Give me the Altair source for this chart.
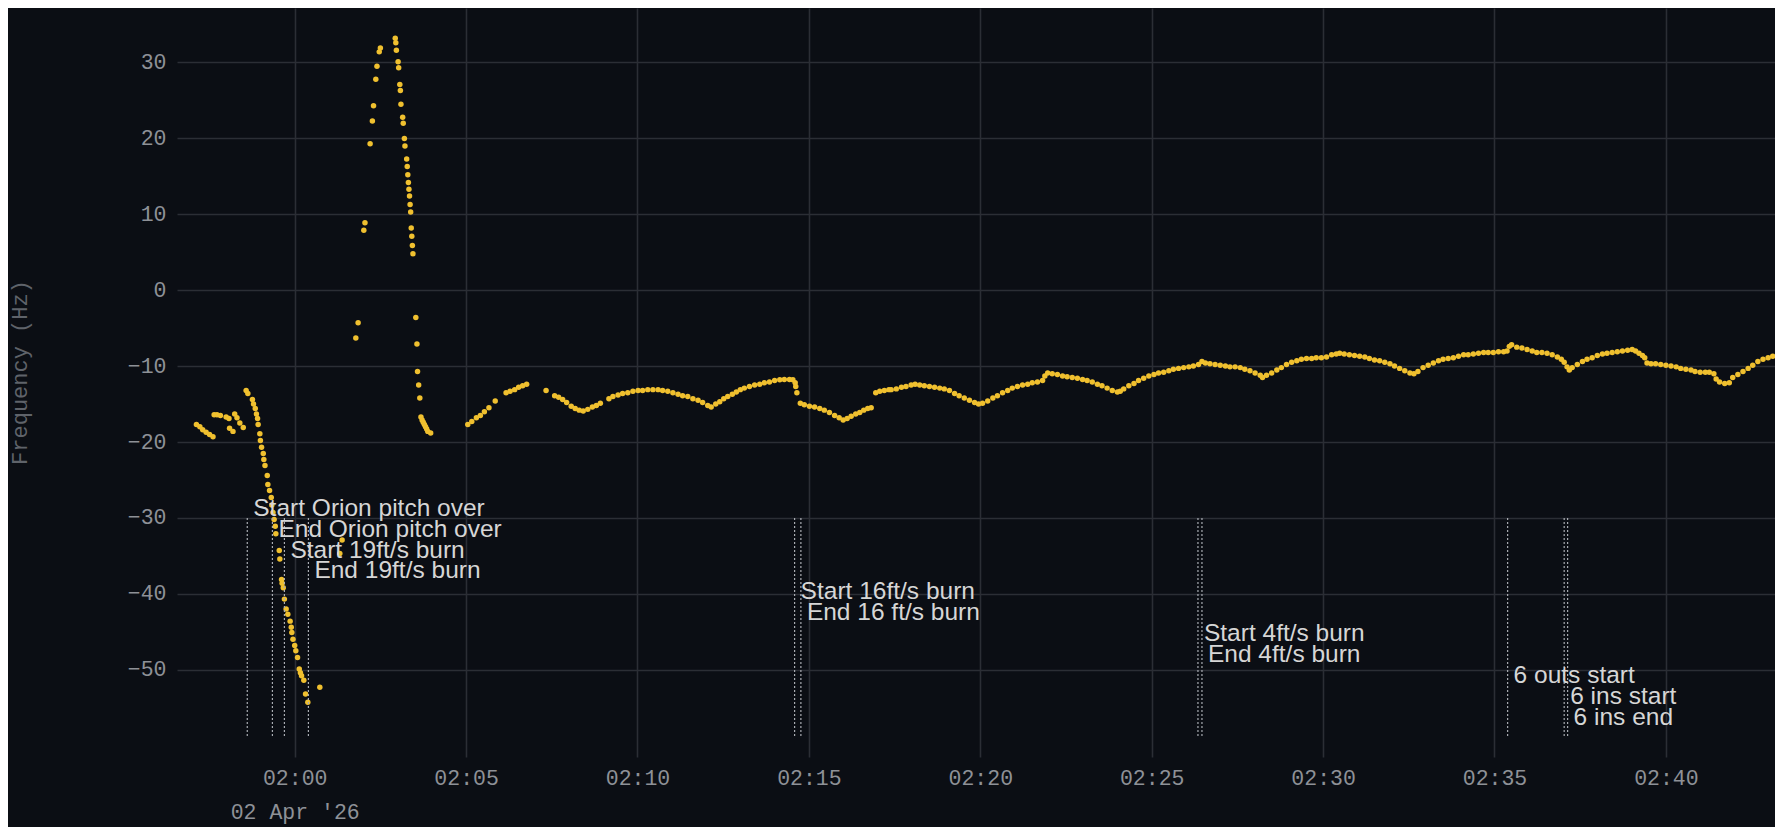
import altair as alt
import pandas as pd

DATE = "2026-04-02"
ZERO = "02:00:00"

# (seconds after 02:00:00 UTC, frequency in Hz)
PITCH_OVER = [
    (-172, -17.7), (-166, -18.0), (-161, -18.4), (-155, -18.7), (-149, -19.0), (-143, -19.3),
    (-141, -16.4), (-136, -16.4), (-130, -16.5), (-120, -16.7), (-115, -16.9), (-114, -18.2),
    (-108, -18.6), (-105, -16.3), (-101, -16.8), (-96, -17.5), (-90, -18.1), (-85, -13.2),
    (-82, -13.6), (-74, -14.4), (-72, -15.0), (-69, -15.6), (-67, -16.3), (-65, -16.9),
    (-64, -17.7), (-61, -18.9), (-60, -19.8), (-58, -20.7), (-55, -21.5), (-54, -22.3),
    (-52, -23.1), (-48, -24.4), (-47, -25.6), (-44, -26.4), (-41, -27.3), (-40, -28.3),
    (-38, -29.3), (-36, -30.2), (-34, -31.1), (-33, -32.1), (-27, -34.3), (-26, -35.4),
    (-23, -38.1), (-22, -38.6), (-20, -39.2), (-18, -40.7), (-15, -42.0), (-12, -42.7),
    (-8, -43.6), (-6, -44.4), (-5, -45.1), (-3, -46.0), (0, -46.8), (2, -47.5), (5, -48.4),
    (8, -49.9), (10, -50.4), (12, -50.8), (16, -51.4), (19, -53.2), (23, -54.3), (44, -52.3),
    (79, -34.7), (83, -32.9),
]

SPIKE = [
    (107, -6.3), (111, -4.3), (121, 7.9), (123, 8.9), (132, 19.3), (136, 22.3), (138, 24.3),
    (142, 27.8), (144, 29.5), (148, 31.4), (150, 31.9), (176, 33.2), (177, 32.6), (178, 31.6),
    (181, 30.1), (182, 29.3), (184, 27.1), (185, 26.3), (186, 24.5), (189, 22.8), (190, 22.0),
    (192, 20.0), (193, 19.0), (196, 17.3), (197, 16.3), (198, 15.2), (199, 14.2), (200, 13.3),
    (201, 12.4), (202, 11.3), (203, 10.3), (204, 8.2), (205, 7.1), (206, 5.9), (207, 4.8),
    (212, -3.6), (214, -7.1), (215, -10.7), (217, -12.5), (219, -14.2), (221, -16.7),
    (223, -17.1), (225, -17.4), (227, -17.7), (229, -18.0), (231, -18.3), (233, -18.6),
    (238, -18.8),
]

CRUISE = [
    (303, -17.7), (310, -17.3), (318, -16.8), (325, -16.5), (332, -16.0), (340, -15.5), (351, -14.6),
    (370, -13.5), (377, -13.3), (385, -13.1), (392, -12.8), (399, -12.6), (406, -12.4),
    (440, -13.2), (455, -13.9),
    (462, -14.1), (469, -14.4), (476, -14.8), (484, -15.3), (491, -15.6), (498, -15.8), (505, -15.9),
    (513, -15.7), (521, -15.4), (528, -15.2), (535, -14.9),
    (550, -14.3), (557, -14.0), (566, -13.8), (574, -13.6), (583, -13.5), (592, -13.3), (601, -13.2),
    (609, -13.2), (618, -13.1), (627, -13.1), (636, -13.1), (644, -13.2), (653, -13.3), (662, -13.5),
    (671, -13.7), (679, -13.9), (688, -14.0), (697, -14.3), (706, -14.5), (714, -14.8), (723, -15.2),
    (729, -15.4), (737, -15.0), (744, -14.7), (751, -14.3), (758, -14.0), (766, -13.7), (773, -13.4),
    (780, -13.1), (787, -12.9), (796, -12.7), (805, -12.5), (814, -12.4), (822, -12.2), (831, -12.1),
    (840, -11.9), (849, -11.8), (857, -11.75), (866, -11.75), (872, -11.8), (876, -12.2), (877, -12.7),
    (879, -13.5),
    (885, -14.9), (892, -15.1), (901, -15.3), (910, -15.4), (919, -15.6), (927, -15.8), (936, -16.1),
    (945, -16.5), (953, -16.8), (960, -17.1), (967, -16.9), (974, -16.6), (982, -16.3), (989, -16.1),
    (996, -15.8), (1003, -15.6), (1009, -15.5),
    (1017, -13.5), (1024, -13.3), (1032, -13.2), (1040, -13.1),
    (1044, -13.1), (1053, -13.0), (1062, -12.8), (1070, -12.7), (1079, -12.5), (1086, -12.4),
    (1094, -12.5), (1102, -12.6), (1111, -12.7), (1120, -12.8), (1129, -12.9), (1137, -13.0),
    (1146, -13.2), (1155, -13.6), (1163, -13.9), (1172, -14.2), (1181, -14.5), (1190, -14.8),
    (1197, -15.0), (1204, -14.9), (1213, -14.6), (1222, -14.2), (1230, -13.9), (1239, -13.5),
    (1248, -13.2), (1256, -12.9), (1265, -12.7), (1274, -12.5), (1283, -12.4), (1291, -12.2),
    (1300, -12.1), (1309, -11.9), (1313, -11.3), (1318, -10.9), (1326, -11.0), (1335, -11.1),
    (1344, -11.3), (1352, -11.4), (1361, -11.5), (1370, -11.6), (1379, -11.75), (1387, -11.9),
    (1396, -12.1), (1405, -12.4), (1413, -12.6), (1422, -12.9), (1431, -13.2), (1440, -13.4),
    (1445, -13.3), (1451, -13.0), (1460, -12.6), (1469, -12.3), (1477, -11.9), (1486, -11.6),
    (1495, -11.3), (1504, -11.1), (1512, -10.9), (1521, -10.8), (1530, -10.6), (1538, -10.4),
    (1547, -10.3), (1556, -10.2), (1565, -10.1), (1573, -10.0), (1582, -9.8), (1588, -9.4),
    (1594, -9.6), (1602, -9.7), (1611, -9.8), (1620, -9.9), (1629, -10.0), (1637, -10.1),
    (1646, -10.1), (1655, -10.2), (1663, -10.4), (1672, -10.6), (1681, -10.9), (1690, -11.2),
    (1694, -11.5), (1701, -11.2), (1710, -10.9), (1719, -10.5), (1727, -10.2), (1736, -9.8),
    (1745, -9.5), (1754, -9.3), (1762, -9.1), (1771, -9.0), (1780, -9.0), (1788, -8.9),
    (1797, -8.9), (1806, -8.8), (1815, -8.5), (1823, -8.4),
    (1829, -8.3), (1837, -8.4), (1846, -8.5), (1855, -8.6), (1864, -8.7), (1873, -8.8),
    (1881, -9.0), (1890, -9.2), (1899, -9.3), (1908, -9.5), (1917, -9.7), (1925, -10.0),
    (1934, -10.3), (1943, -10.6), (1952, -10.9), (1959, -11.0), (1966, -10.7), (1975, -10.2),
    (1984, -9.9), (1993, -9.6), (2002, -9.3), (2010, -9.1), (2019, -9.0), (2028, -8.9),
    (2037, -8.7), (2046, -8.5), (2054, -8.5), (2063, -8.4), (2072, -8.3), (2081, -8.2),
    (2089, -8.2), (2098, -8.2), (2107, -8.1), (2116, -8.1), (2122, -8.0), (2126, -7.4),
    (2130, -7.2), (2139, -7.5), (2148, -7.6), (2157, -7.8), (2166, -8.0), (2174, -8.2),
    (2183, -8.2), (2192, -8.3), (2201, -8.5), (2210, -8.8), (2217, -9.1), (2222, -9.5),
    (2227, -10.1), (2231, -10.5), (2236, -10.2), (2245, -9.8), (2254, -9.4), (2262, -9.1),
    (2271, -8.9), (2280, -8.6), (2289, -8.4), (2297, -8.3), (2306, -8.2), (2315, -8.1),
    (2324, -8.0), (2333, -7.9), (2341, -7.8), (2347, -8.0), (2353, -8.3), (2359, -8.6),
    (2363, -8.9), (2367, -9.6), (2374, -9.7), (2382, -9.7), (2391, -9.8), (2400, -9.9),
    (2409, -10.0), (2418, -10.1), (2426, -10.3), (2435, -10.4), (2444, -10.5), (2451, -10.7),
    (2460, -10.8), (2469, -10.8), (2476, -10.8), (2484, -11.0), (2488, -11.7), (2494, -12.1),
    (2503, -12.3), (2511, -12.2), (2517, -11.5), (2526, -11.1), (2535, -10.7), (2544, -10.3),
    (2552, -9.9), (2561, -9.4), (2570, -9.1), (2579, -8.9), (2587, -8.7), (2596, -8.5),
    (2605, -8.6),
]

EVENT_LABELS = [
    "Start Orion pitch over", "End Orion pitch over", "Start 19ft/s burn", "End 19ft/s burn",
    "Start 16ft/s burn", "End 16 ft/s burn", "Start 4ft/s burn", "End 4ft/s burn",
    "6 outs start", "6 ins start", "6 ins end",
]
EVENT_TIMES = [
    "01:58:37", "01:59:21", "01:59:42", "02:00:24", "02:14:35", "02:14:46",
    "02:26:21", "02:26:28", "02:35:23", "02:37:02", "02:37:08",
]

X_TICKS = ["02:00", "02:05", "02:10", "02:15", "02:20", "02:25", "02:30", "02:35", "02:40"]
Y_TICKS = [-50, -40, -30, -20, -10, 0, 10, 20, 30]
X_RANGE = ["01:56:34", "02:43:11"]
Y_RANGE = [-61.5, 37.18]

BG = "#0b0e14"
GRID = "#2b2e35"
TICK_LABEL = "#8e9197"
TITLE = "#5f636a"
GOLD = "#f0c02f"
ANNOT = "#d6d6d6"
RULE = "#a9acb2"
MONO = "Liberation Mono"
SANS = "Liberation Sans"


def ms(hms):
    return int(pd.Timestamp(f"{DATE}T{hms}Z").value // 10**6)


base = ms(ZERO)
pts = pd.DataFrame(PITCH_OVER + SPIKE + CRUISE, columns=["sec", "hz"])
pts["t"] = base + pts["sec"] * 1000

ev = pd.DataFrame({
    "label": EVENT_LABELS,
    "t": [ms(t) for t in EVENT_TIMES],
    "order": list(range(len(EVENT_LABELS))),
})

x_scale = alt.Scale(type="utc", domain=[ms(X_RANGE[0]), ms(X_RANGE[1])], nice=False)
y_scale = alt.Scale(domain=Y_RANGE, nice=False, zero=False)

LABEL_EXPR = (
    "utcFormat(datum.value, '%H:%M') === '02:00' ? "
    "[utcFormat(datum.value, '%H:%M'), utcFormat(datum.value, \"%d %b '%y\")] : "
    "utcFormat(datum.value, '%H:%M')"
)

x_axis = alt.Axis(
    title=None, values=[ms(t + ":00") for t in X_TICKS], labelExpr=LABEL_EXPR,
    grid=True, gridColor=GRID, gridWidth=1.6, domain=False, ticks=False,
    labelPadding=10, labelFont=MONO, labelFontSize=21.5, labelColor=TICK_LABEL,
    labelLineHeight=34, labelBaseline="top", labelOverlap=False,
)
y_axis = alt.Axis(
    title="Frequency (Hz)", values=Y_TICKS, grid=True, gridColor=GRID, gridWidth=1.6,
    domain=False, ticks=False, labelPadding=11, labelFont=MONO, labelFontSize=21.5,
    labelColor=TICK_LABEL, titleFont=MONO, titleFontSize=22, titleColor=TITLE,
    titleFontWeight="normal", titleAngle=270, titleX=-158, titleY=364,
    titleAlign="center", titleBaseline="middle",
)

points = alt.Chart(pts).mark_circle(size=30, color=GOLD, opacity=1, clip=True).encode(
    x=alt.X("t:T", scale=x_scale, axis=x_axis),
    y=alt.Y("hz:Q", scale=y_scale, axis=y_axis),
)

rules = alt.Chart(ev).mark_rule(color=RULE, strokeDash=[2, 2], strokeWidth=1.2).encode(
    x=alt.X("t:T", scale=x_scale, axis=x_axis),
    y=alt.datum(-30),
    y2=alt.datum(-59),
)

labels = alt.Chart(ev).transform_calculate(
    ly="-28.8 - 2.75 * datum.order"
).mark_text(align="left", baseline="middle", dx=6, font=SANS, fontSize=24.5, color=ANNOT).encode(
    x=alt.X("t:T", scale=x_scale, axis=x_axis),
    y=alt.Y("ly:Q", scale=y_scale, axis=y_axis),
    text="label:N",
)

chart = alt.layer(points, rules, labels).properties(
    width=1598, height=749,
    padding={"left": 169, "top": 0, "right": 0, "bottom": 70},
    autosize=alt.AutoSizeParams(type="none"),
    background=BG,
).configure_view(stroke=None)

chart.save("out.html", embed_options={"renderer": "svg", "actions": False})
